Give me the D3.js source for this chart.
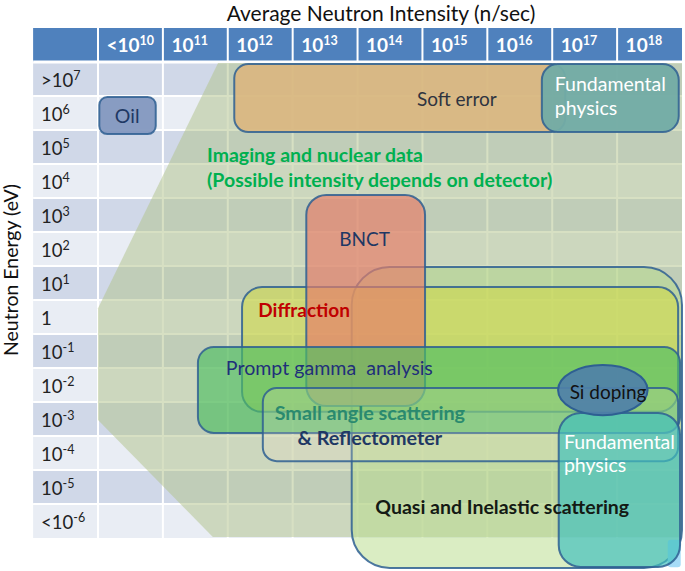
<!DOCTYPE html>
<html><head><meta charset="utf-8">
<script src="https://cdn.jsdelivr.net/npm/d3@7/dist/d3.min.js"></script>
<style>
body{margin:0;background:#fff}
svg{display:block;font-family:Lato,"Open Sans",sans-serif}
</style>
</head><body>
<svg id="c" width="685" height="571"></svg>
<script>
// ---------- data ----------
// Average neutron intensity columns (log10 n/sec)
const intensityExps   = [10, 11, 12, 13, 14, 15, 16, 17, 18];
const intensityPrefix = ["<", "", "", "", "", "", "", "", ""];
// Neutron energy rows (log10 eV)
const energyExps   = [7, 6, 5, 4, 3, 2, 1, 0, -1, -2, -3, -4, -5, -6];
const energyPrefix = [">", "", "", "", "", "", "", "", "", "", "", "", "", "<"];

// Application regions, in log10 intensity and log10 energy
const appNames       = ["Soft error", "Fundamental physics (fast)", "Oil",
                        "Quasi and Inelastic scattering", "Diffraction", "BNCT",
                        "Prompt gamma analysis", "Small angle scattering & Reflectometer",
                        "Cold tail", "Fundamental physics (cold)"];
const appIntensityLo = [11.60, 16.34,  9.52, 13.41, 11.72, 12.71, 11.04, 12.04, 18.28, 16.60];
const appIntensityHi = [16.70, 18.45, 10.39, 18.50, 18.44, 14.54, 18.47, 18.44, 18.48, 18.47];
const appEnergyHi    = [ 7.44,  7.44,  6.47,  1.47,  0.88,  3.59, -0.88, -2.09, -6.55, -2.82];
const appEnergyLo    = [ 5.44,  5.44,  5.38, -7.38, -2.79, -2.62, -3.41, -4.24, -7.36, -7.35];

// Si doping (ellipse): centre and half-extents
const siIntensity = 17.28, siEnergy = -2.15, siHalfI = 0.69, siHalfE = 0.74;

// Imaging & nuclear data region outline
const imagingIntensity = [11.35, 18.50, 18.50, 11.27, 9.50, 9.50];
const imagingEnergy    = [ 7.47,  7.47, -6.47, -6.47, -3.03, 0.26];

// Text labels (anchor intensity, energy)
const labelText   = ["Soft error", "Fundamental", "physics", "Oil",
                     "Imaging and nuclear data", "(Possible intensity depends on detector)",
                     "BNCT", "Diffraction", "Prompt gamma  analysis",
                     "Small angle scattering", "& Reflectometer",
                     "Quasi and Inelastic scattering", "Si doping",
                     "Fundamental", "physics"];
const labelI      = [15.03, 16.54, 16.54, 9.95, 11.18, 11.18, 13.61, 11.97, 11.47, 13.69, 13.69, 15.73, 17.36, 16.68, 16.68];
const labelE      = [ 6.41,  6.85,  6.15, 5.91,  4.76,  4.03,  2.29,  0.21, -1.50, -2.82, -3.56, -5.59, -2.21, -3.68, -4.35];

// ---------- styles ----------
const boxStyle = {
  "Soft error":                         {fill:"#dbb57d", op:0.88, r:14},
  "Fundamental physics (fast)":         {fill:"#72aca6", op:0.96, r:16},
  "Oil":                                {fill:"#7f95bd", op:0.92, r:8},
  "Quasi and Inelastic scattering":     {fill:"#b9dc8c", op:0.52, r:38},
  "Diffraction":                        {fill:"#cfd84a", op:0.6, r:20},
  "BNCT":                               {fill:"#e67d68", op:0.68, r:20},
  "Prompt gamma analysis":              {fill:"#4fc062", op:0.66, r:16},
  "Small angle scattering & Reflectometer": {fill:"#efe1c2", op:0.22, r:14},
  "Cold tail":                          {fill:"#a6dcf7", op:1, r:3},
  "Fundamental physics (cold)":         {fill:"#3fbfbd", op:0.68, r:22}
};
const labelStyle = [
  {c:"#2f3440", w:400, s:19, a:"middle"},
  {c:"#ffffff", w:400, s:19.5, a:"start"},
  {c:"#ffffff", w:400, s:19.5, a:"start"},
  {c:"#1f3864", w:400, s:19.5, a:"middle"},
  {c:"#00b050", w:700, s:19.5, a:"start"},
  {c:"#00b050", w:700, s:19.5, a:"start"},
  {c:"#1f3864", w:400, s:19, a:"middle"},
  {c:"#c00000", w:700, s:19, a:"start"},
  {c:"#1f2f7a", w:400, s:19.6, a:"start"},
  {c:"#2a8a6e", w:700, s:19.8, a:"middle"},
  {c:"#1f3864", w:700, s:19.8, a:"middle"},
  {c:"#141a14", w:700, s:19.5, a:"middle"},
  {c:"#111111", w:400, s:19, a:"middle"},
  {c:"#ffffff", w:400, s:19.5, a:"start"},
  {c:"#ffffff", w:400, s:19.5, a:"start"}
];

// ---------- scales ----------
const svg = d3.select("#c");
const x = d3.scaleLinear().domain([9.5, 18.5]).range([98, 682]);
const y = d3.scaleLinear().domain([7.5, -6.5]).range([62, 538]);
const colW = x(1) - x(0), rowH = y(0) - y(1);

// ---------- table ----------
const table = svg.append("g");
table.selectAll("rect.band").data(energyExps).join("rect")
  .attr("class","band")
  .attr("x", x(8.5)).attr("width", x(18.5) - x(8.5))
  .attr("y", d => y(d + 0.5)).attr("height", rowH)
  .attr("fill", (d,i) => i % 2 === 0 ? "#d0d8e8" : "#e9edf4");
table.append("rect")
  .attr("x", x(8.5)).attr("width", x(18.5) - x(8.5))
  .attr("y", y(8.5)).attr("height", rowH)
  .attr("fill", "#4f81bd");
const vLines = [9.5].concat(intensityExps.slice(0,-1).map(d => d + 0.5));
table.selectAll("line.v").data(vLines).join("line")
  .attr("x1", d => x(d)).attr("x2", d => x(d))
  .attr("y1", y(8.5)).attr("y2", y(-6.5))
  .attr("stroke", "#fff").attr("stroke-width", 2);
const hLines = [7.5].concat(energyExps.slice(0,-1).map(d => d - 0.5));
table.selectAll("line.h").data(hLines).join("line")
  .attr("x1", x(8.5)).attr("x2", x(18.5))
  .attr("y1", d => y(d)).attr("y2", d => y(d))
  .attr("stroke", "#fff").attr("stroke-width", (d,i) => i === 0 ? 3 : 2);

// imaging region
svg.append("path")
  .datum(imagingIntensity.map((v,i) => [v, imagingEnergy[i]]))
  .attr("d", d3.line().x(d => x(d[0])).y(d => y(d[1])).curve(d3.curveLinearClosed))
  .attr("fill", "#b3c48c").attr("fill-opacity", 0.52);

// ---------- axes (table headers) ----------
const xAxis = d3.axisTop(x).tickValues(intensityExps).tickSize(0).tickPadding(0);
const gx = svg.append("g").attr("transform", `translate(0,${y(8) + 7})`).call(xAxis);
gx.select(".domain").remove();
gx.selectAll("text")
  .attr("text-anchor", "start").attr("x", -colW/2 + 8)
  .attr("fill", "#fff").style("font-family", "Lato,sans-serif")
  .style("font-size", "19px").style("font-weight", 700)
  .each(function(d) {
    const i = intensityExps.indexOf(d);
    const t = d3.select(this);
    t.text(null);
    t.append("tspan").text(intensityPrefix[i] + "10");
    t.append("tspan").attr("dy", -7).style("font-size", "12.5px").text(d);
  });

const yAxis = d3.axisLeft(y).tickValues(energyExps).tickSize(0).tickPadding(0)
  .tickFormat(d => d === 0 ? "1" : d);
const gy = svg.append("g").attr("transform", `translate(${x(8.5)},0)`).call(yAxis);
gy.select(".domain").remove();
gy.selectAll("text")
  .attr("text-anchor", "start").attr("x", 8).attr("dy", "0.38em")
  .attr("fill", "#222").style("font-family", "Lato,sans-serif")
  .style("font-size", "18.5px").style("font-weight", 400)
  .each(function(d) {
    if (d === 0) return;
    const i = energyExps.indexOf(d);
    const t = d3.select(this);
    t.text(null);
    t.append("tspan").text(energyPrefix[i] + "10");
    t.append("tspan").attr("dy", -7).style("font-size", "12.5px").text(d);
  });

// axis titles
svg.append("text").attr("x", 381).attr("y", 21).attr("text-anchor", "middle")
  .style("font-size", "21px").attr("fill", "#111")
  .text("Average Neutron Intensity (n/sec)");
svg.append("text").attr("transform", `translate(18,270) rotate(-90)`)
  .attr("text-anchor", "middle").style("font-size", "19.5px").attr("fill", "#111")
  .text("Neutron Energy (eV)");

// ---------- application boxes ----------
const boxes = svg.append("g");
appNames.forEach((name, i) => {
  const st = boxStyle[name];
  const x0 = x(appIntensityLo[i]), x1 = x(appIntensityHi[i]);
  const y0 = y(appEnergyHi[i]), y1 = y(appEnergyLo[i]);
  boxes.append("rect")
    .attr("x", x0).attr("y", y0).attr("width", x1 - x0).attr("height", y1 - y0)
    .attr("rx", st.r).attr("ry", st.r)
    .attr("fill", st.fill).attr("fill-opacity", st.op)
    .attr("stroke", name === "Cold tail" ? "none" : "#2e5f92")
    .attr("stroke-opacity", 0.85).attr("stroke-width", 2);
});
boxes.append("ellipse")
  .attr("cx", x(siIntensity)).attr("cy", y(siEnergy))
  .attr("rx", x(siIntensity + siHalfI) - x(siIntensity))
  .attr("ry", y(siEnergy - siHalfE) - y(siEnergy))
  .attr("fill", "#4f80a8").attr("fill-opacity", 0.92)
  .attr("stroke", "#2e5f92").attr("stroke-width", 2);

// ---------- labels ----------
svg.append("g").selectAll("text").data(labelText).join("text")
  .attr("x", (d,i) => x(labelI[i])).attr("y", (d,i) => y(labelE[i]))
  .attr("dy", "0.35em")
  .attr("text-anchor", (d,i) => labelStyle[i].a)
  .attr("fill", (d,i) => labelStyle[i].c)
  .style("font-weight", (d,i) => labelStyle[i].w)
  .style("font-size", (d,i) => labelStyle[i].s + "px")
  .style("white-space", "pre")
  .text(d => d);
</script>
</body></html>
